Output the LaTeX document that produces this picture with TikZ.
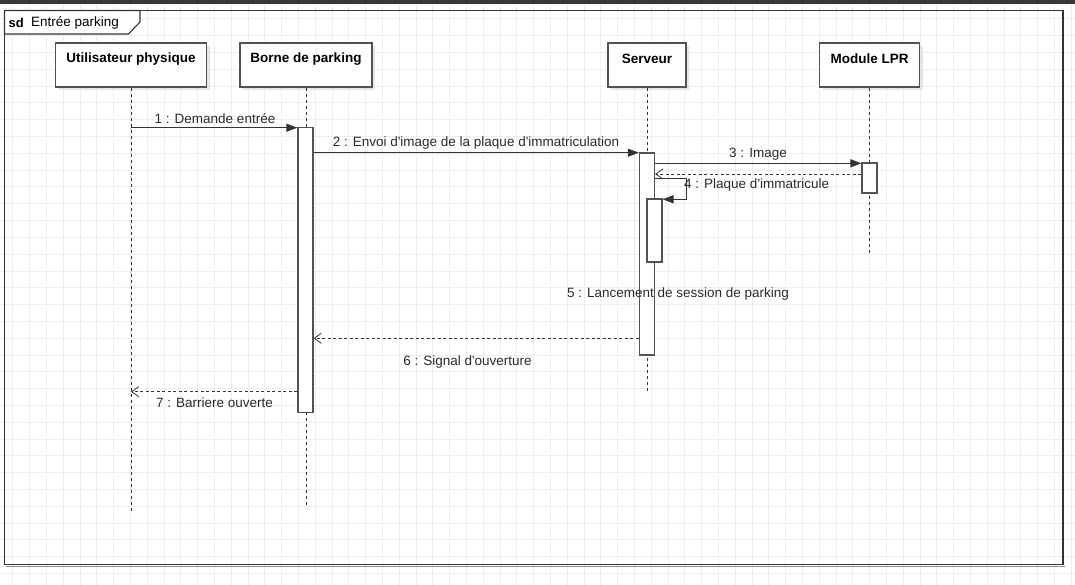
\documentclass[tikz,border=0pt]{standalone}
\usepackage{fontspec}
\setmainfont{Liberation Sans}
\usetikzlibrary{arrows.meta,calc,shadows}
\definecolor{lnc}{HTML}{333333}
\definecolor{gridc}{HTML}{EDEDED}
\definecolor{txtc}{HTML}{2A2A2A}
\newcommand{\apo}{\textquotesingle}
\tikzset{
  headbox/.style={draw=lnc!85!white, line width=1.2pt, fill=white, minimum height=44pt,
    drop shadow={shadow xshift=3pt, shadow yshift=-3pt, fill=black!10, opacity=1}},
  headlabel/.style={font=\fontsize{13.5}{14}\selectfont\bfseries, text=black, inner sep=0pt},
  actbox/.style={draw=lnc!85!white, line width=1.2pt, fill=white, minimum width=15pt, inner sep=0pt},
  lifeline/.style={draw=lnc, line width=0.9pt, dash pattern=on 3pt off 3pt},
  msg/.style={draw=lnc, line width=1pt, -{Triangle[length=11pt,width=8pt]}},
  ret/.style={draw=lnc, line width=0.9pt, dash pattern=on 3pt off 2.5pt, -{Straight Barb[length=7pt,width=10pt,line width=0.8pt]}},
  msglabel/.style={font=\fontsize{13.5}{14}\selectfont, text=txtc, inner sep=0pt}
}
\begin{document}
\begin{tikzpicture}[x=1pt,y=-1pt]
\useasboundingbox (0,0) rectangle (1075,585);
\fill[white] (0,0) rectangle (1075,585);
% grid
\foreach \i in {0,...,64} {\draw[gridc, line width=1pt] ({12.8+16.8*\i},0) -- ({12.8+16.8*\i},585);}
\foreach \j in {0,...,35} {\draw[gridc, line width=1pt] (0,{2.2+16.8*\j}) -- (1075,{2.2+16.8*\j});}
% top bar
\fill[black!78] (0,0) rectangle (1075,4);
% frame
\draw[black!45, line width=1pt] (6,566.5) -- (1064.5,566.5);
\draw[lnc, line width=1.1pt] (4.5,10.5) rectangle (1063,564.5);
\draw[lnc, line width=1.1pt, fill=white] (4.5,10.5) -- (140,10.5) -- (140,22) -- (128.5,34) -- (4.5,34) -- cycle;
\node[headlabel, anchor=west, font=\fontsize{13}{14}\selectfont\bfseries] (sd) at (8.5,23) {sd};
\node[msglabel, anchor=west, text=black] (title) at (31,23) {Entrée parking};
% heads
\node[headbox, minimum width=151pt] (u) at (131,65) {};
\node[headbox, minimum width=132pt] (b) at (306,65) {};
\node[headbox, minimum width=78pt] (s) at (647,65) {};
\node[headbox, minimum width=100pt] (m) at (869.5,65) {};
\node[headlabel] at ($(u.north)+(0,16.5)$) {Utilisateur physique};
\node[headlabel] at ($(b.north)+(0,16.5)$) {Borne de parking};
\node[headlabel] at ($(s.north)+(0,16.5)$) {Serveur};
\node[headlabel] at ($(m.north)+(0,16.5)$) {Module LPR};
% lifeline ends
\coordinate (uend) at (131,512);
\coordinate (bend) at (306,505);
\coordinate (send) at (647,392);
\coordinate (mend) at (869.5,253);
\draw[lifeline] (u.south) -- (uend);
\draw[lifeline] (b.south) -- (bend);
\draw[lifeline] (s.south) -- (send);
\draw[lifeline] (m.south) -- (mend);
% activations
\node[actbox, minimum height=284.5pt] (ba) at (305.5,270) {};
\node[actbox, minimum height=202pt] (sa) at (647,254) {};
\node[actbox, minimum height=63pt] (na) at (654.5,230.5) {};
\node[actbox, minimum height=30pt] (ma) at (869.5,178) {};
% message levels
\coordinate (y1) at (0,127.7);
\coordinate (y2) at (0,152.7);
\coordinate (y3) at (0,163.3);
\coordinate (y4) at (0,174);
\coordinate (s4a) at (686,179);
\coordinate (s4b) at (686,199.3);
\coordinate (y6) at (0,338.3);
\coordinate (y7) at (0,391.7);
% messages
\draw[msg] (u.south |- y1) -- (ba.west |- y1);
\draw[msg] (ba.east |- y2) -- (sa.west |- y2);
\draw[msg] (sa.east |- y3) -- (ma.west |- y3);
\draw[ret] (ma.west |- y4) -- (sa.east |- y4);
\draw[msg] (sa.east |- s4a) -- (s4a) -- (s4b) -- (na.east |- s4b);
\draw[ret] (sa.west |- y6) -- (ba.east |- y6);
\draw[ret] (ba.west |- y7) -- (u.south |- y7);
% labels
\node[msglabel] (l1) at (215,119) {1 : Demande entrée};
\node[msglabel] (l2) at (476,143) {2 : Envoi d\apo image de la plaque d\apo immatriculation};
\node[msglabel] (l3) at (758,154) {3 : Image};
\node[msglabel, anchor=west] (l4) at (684,185) {4 : Plaque d\apo immatricule};
\node[msglabel] (l5) at (678,294) {5 : Lancement de session de parking};
\node[msglabel] (l6) at (467.5,362) {6 : Signal d\apo ouverture};
\node[msglabel] (l7) at (214.5,403) {7 : Barriere ouverte};
\end{tikzpicture}
\end{document}
